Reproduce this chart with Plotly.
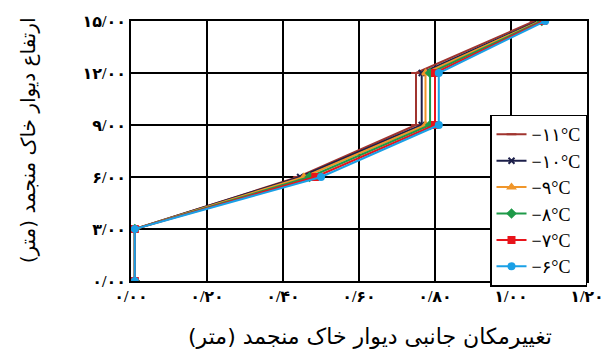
import plotly.graph_objects as go

# Wall height (m) and lateral displacement (m) for each freezing temperature
heights = [0, 3, 6, 9, 12, 15]
disp_m11 = [0.01, 0.01, 0.44, 0.75, 0.75, 1.062]
disp_m10 = [0.01, 0.01, 0.445, 0.765, 0.765, 1.072]
disp_m9 = [0.01, 0.01, 0.455, 0.775, 0.775, 1.077]
disp_m8 = [0.01, 0.01, 0.47, 0.787, 0.787, 1.081]
disp_m7 = [0.01, 0.01, 0.485, 0.80, 0.80, 1.085]
disp_m6 = [0.01, 0.01, 0.50, 0.81, 0.81, 1.09]

series_names = ["−۱۱°C", "−۱۰°C", "−۹°C", "−۸°C", "−۷°C", "−۶°C"]
series_vals = [disp_m11, disp_m10, disp_m9, disp_m8, disp_m7, disp_m6]

x_ticks = [0, 0.2, 0.4, 0.6, 0.8, 1.0, 1.2]
x_tick_labels = ["۰/۰۰", "۰/۲۰", "۰/۴۰", "۰/۶۰", "۰/۸۰", "۱/۰۰", "۱/۲۰"]
y_ticks = [0, 3, 6, 9, 12, 15]
y_tick_labels = ["۰/۰۰", "۳/۰۰", "۶/۰۰", "۹/۰۰", "۱۲/۰۰", "۱۵/۰۰"]

x_title = "تغییرمکان جانبی دیوار خاک منجمد (متر)"
y_title = "ارتفاع دیوار خاک منجمد (متر)"

colors = ["#a0342f", "#1c1f4a", "#f0962a", "#1e9a48", "#e8141b", "#1aa0e6"]
symbols = ["line-ew-open", "x-thin-open", "triangle-up", "diamond", "square", "circle"]
sizes = [7, 6, 6, 6, 6, 6]

FONT = "Liberation Serif, DejaVu Sans"
FONT_AR = "DejaVu Sans"

fig = go.Figure()
for name, vals, c, s, sz in zip(series_names, series_vals, colors, symbols, sizes):
    fig.add_trace(go.Scatter(
        x=vals, y=heights, name=name, mode="lines+markers",
        line=dict(color=c, width=2),
        marker=dict(symbol=s, size=sz, color=c, line=dict(color=c, width=2)),
    ))

axis_common = dict(
    showgrid=True, gridcolor="black", gridwidth=1.5,
    showline=True, linecolor="black", linewidth=1.5, mirror=True,
    zeroline=False, ticks="",
    tickfont=dict(family=FONT, size=16, color="black", weight="bold"),
)

fig.update_layout(
    width=616, height=356,
    margin=dict(l=131, r=17, t=21, b=75),
    paper_bgcolor="white", plot_bgcolor="white",
    font=dict(family=FONT, color="black"),
    xaxis=dict(range=[0, 1.2], tickvals=x_ticks, ticktext=x_tick_labels, **axis_common),
    yaxis=dict(range=[0, 15], tickvals=y_ticks, ticktext=y_tick_labels, **axis_common),
    legend=dict(x=1, y=0.64, xanchor="right", yanchor="top",
                bgcolor="white", bordercolor="black", borderwidth=1.5,
                font=dict(family=FONT, size=18, color="black"),
                itemwidth=30, tracegroupgap=0),
    showlegend=True,
)

# Axis titles (right-to-left text placed as centred annotations)
fig.add_annotation(text=x_title, xref="paper", yref="paper", x=0.5235, y=-0.215,
                   xanchor="center", yanchor="middle", showarrow=False,
                   font=dict(family=FONT_AR, size=22, color="black"))
fig.add_annotation(text=y_title, xref="paper", yref="paper", x=-0.2265, y=0.54,
                   xanchor="center", yanchor="middle", textangle=-90, showarrow=False,
                   font=dict(family=FONT_AR, size=20, color="black"))

fig.write_html("out.html")
